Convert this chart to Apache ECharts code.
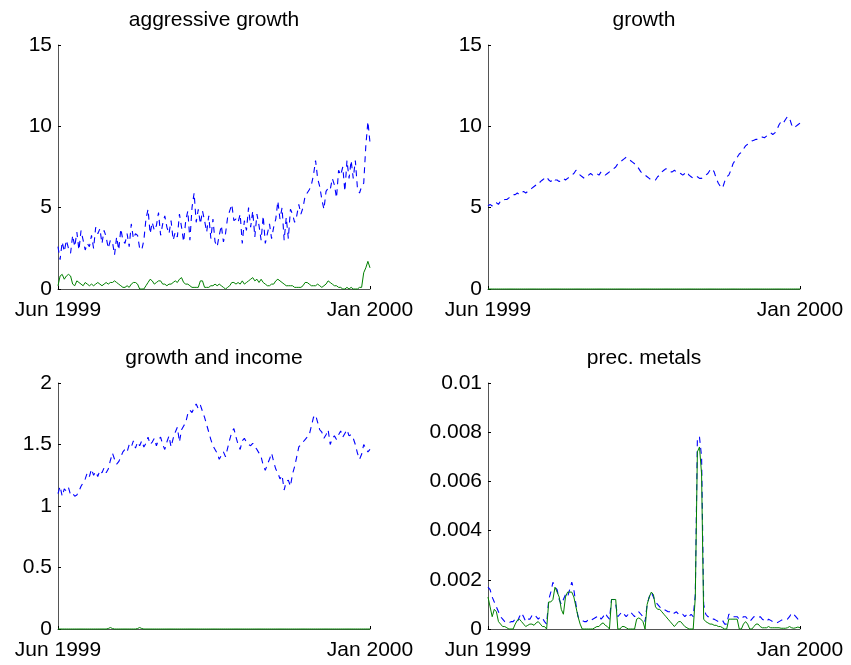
<!DOCTYPE html>
<html>
<head>
<meta charset="utf-8">
<script src="https://cdn.jsdelivr.net/npm/echarts@6/dist/echarts.min.js"></script>
<style>
  html, body { margin: 0; padding: 0; background: #ffffff; }
  #chart { width: 851px; height: 665px; }
</style>
</head>
<body>
<div id="chart"></div>
<script>
// ---------------- data ----------------
var panelTitles = ['aggressive growth', 'growth', 'growth and income', 'prec. metals'];
var xTickLabels = ['Jun 1999', 'Jan 2000'];
var yTicks = {
  ag: [0, 5, 10, 15],
  g: [0, 5, 10, 15],
  gi: [0, 0.5, 1, 1.5, 2],
  pm: [0, 0.002, 0.004, 0.006, 0.008, 0.01]
};

var agBlue = [
  2.6,1.8,2.9,2.3,3.0,2.5,2.2,3.3,2.6,3.5,
  2.4,3.6,3.0,2.4,2.8,2.6,3.3,2.5,3.8,3.4,
  3.7,2.8,3.6,3.2,2.5,3.0,2.9,2.1,3.2,2.4,
  3.7,3.0,2.8,3.4,2.6,4.0,3.1,3.4,3.3,2.5,
  2.4,3.0,4.3,4.9,3.4,4.1,3.6,3.9,4.7,3.3,
  4.0,4.5,3.8,3.4,4.2,3.0,3.5,3.2,4.6,3.8,
  2.9,4.2,4.8,3.0,5.0,5.9,4.1,4.9,4.0,4.8,
  4.2,3.5,4.5,3.1,4.3,2.9,2.6,3.3,3.9,2.9,
  3.4,4.4,4.8,5.2,4.2,4.3,4.1,4.6,2.8,4.2,
  3.6,5.0,3.8,4.8,3.2,4.6,3.9,3.0,4.5,2.8,
  3.4,4.0,3.1,3.8,4.3,5.4,4.3,5.0,3.0,4.4,
  3.1,4.9,4.6,4.1,4.5,5.2,4.6,5.0,5.7,5.9,
  6.1,6.4,7.0,7.9,6.8,6.3,5.5,4.9,6.0,6.2,
  6.1,6.8,6.4,5.6,7.3,7.0,7.5,6.0,7.9,6.8,
  7.9,6.8,7.9,6.2,5.9,6.3,6.5,8.8,10.3,9.0
];
var agGreen = [
  0.2,0.8,0.9,0.6,0.8,0.9,0.8,0.3,0.2,0.5,
  0.4,0.3,0.2,0.4,0.3,0.2,0.3,0.2,0.3,0.4,
  0.3,0.2,0.3,0.4,0.3,0.4,0.4,0.5,0.4,0.3,
  0.2,0.1,0.1,0.2,0.1,0.3,0.4,0.4,0.3,0.0,
  0.0,0.0,0.2,0.4,0.6,0.5,0.3,0.4,0.5,0.5,
  0.3,0.3,0.2,0.3,0.3,0.4,0.5,0.4,0.6,0.7,
  0.4,0.3,0.3,0.2,0.1,0.1,0.1,0.1,0.5,0.5,
  0.1,0.1,0.1,0.2,0.2,0.3,0.2,0.3,0.2,0.1,
  0.0,0.1,0.2,0.4,0.4,0.3,0.4,0.3,0.5,0.3,
  0.4,0.5,0.6,0.7,0.5,0.6,0.4,0.6,0.4,0.3,
  0.2,0.2,0.3,0.3,0.5,0.6,0.5,0.4,0.3,0.2,
  0.2,0.2,0.2,0.1,0.1,0.1,0.1,0.2,0.4,0.4,
  0.3,0.2,0.2,0.2,0.3,0.2,0.1,0.2,0.3,0.5,
  0.4,0.3,0.2,0.2,0.1,0.1,0.0,0.0,0.1,0.0,
  0.1,0.0,0.0,0.0,0.1,0.1,1.0,1.3,1.7,1.3
];
var gBlue = [
  5.1,5.2,5.1,5.3,5.3,5.2,5.4,5.4,5.5,5.5,
  5.6,5.7,5.8,5.8,5.9,5.8,5.9,6.0,5.9,6.0,
  6.1,6.2,6.3,6.4,6.4,6.6,6.7,6.8,6.9,6.7,
  6.6,6.8,6.7,6.7,6.6,6.7,6.8,6.7,6.8,6.9,
  7.0,7.1,7.3,7.2,7.0,6.9,6.8,6.9,7.0,7.1,
  7.0,7.1,7.1,7.0,7.2,7.1,7.0,7.1,7.2,7.3,
  7.4,7.5,7.7,7.8,7.9,8.0,8.1,8.0,7.9,7.8,
  7.7,7.6,7.4,7.2,7.1,7.0,6.9,6.8,6.7,6.7,
  6.7,6.9,7.0,7.2,7.3,7.4,7.3,7.2,7.2,7.3,
  7.2,7.2,7.1,7.0,7.1,7.2,7.0,6.9,6.8,6.8,
  6.9,6.8,6.8,6.9,7.0,7.1,7.3,7.4,7.2,6.8,
  6.5,6.3,6.2,6.6,6.9,7.0,7.3,7.7,7.9,8.1,
  8.3,8.4,8.6,8.8,8.9,9.0,9.1,9.15,9.2,9.2,
  9.3,9.35,9.3,9.4,9.5,9.6,9.5,9.6,9.8,10.1,
  10.3,10.2,10.4,10.6,10.5,10.1,9.9,10.0,10.1,10.2
];
var gGreen = [
  0,0,0,0,0,0,0,0,0,0, 0,0,0,0,0,0,0,0,0,0,
  0,0,0,0,0,0,0,0,0,0, 0,0,0,0,0,0,0,0,0,0,
  0,0,0,0,0,0,0,0,0,0, 0,0,0,0,0,0,0,0,0,0,
  0,0,0,0,0,0,0,0,0,0, 0,0,0,0,0,0,0,0,0,0,
  0,0,0,0,0,0,0,0,0,0, 0,0,0,0,0,0,0,0,0,0,
  0,0,0,0,0,0,0,0,0,0, 0,0,0,0,0,0,0,0,0,0,
  0,0,0,0,0,0,0,0,0,0, 0,0,0,0,0,0,0,0,0,0,
  0,0,0,0,0,0,0,0,0,0
];
var giBlue = [
  1.10,1.16,1.08,1.14,1.12,1.15,1.09,1.10,1.08,1.09,
  1.12,1.16,1.19,1.22,1.27,1.24,1.30,1.25,1.28,1.24,
  1.29,1.27,1.31,1.27,1.30,1.37,1.43,1.38,1.34,1.36,
  1.40,1.44,1.46,1.44,1.50,1.48,1.53,1.47,1.52,1.49,
  1.53,1.48,1.51,1.56,1.50,1.52,1.55,1.49,1.54,1.56,
  1.50,1.46,1.52,1.57,1.48,1.55,1.60,1.64,1.52,1.62,
  1.65,1.68,1.75,1.78,1.76,1.80,1.83,1.79,1.82,1.77,
  1.72,1.66,1.60,1.54,1.49,1.46,1.43,1.38,1.41,1.44,
  1.40,1.47,1.54,1.60,1.63,1.56,1.50,1.46,1.53,1.55,
  1.52,1.50,1.49,1.51,1.48,1.46,1.43,1.40,1.33,1.29,
  1.34,1.38,1.43,1.36,1.30,1.27,1.22,1.25,1.13,1.20,
  1.21,1.16,1.26,1.32,1.40,1.48,1.50,1.52,1.54,1.56,
  1.58,1.65,1.72,1.74,1.68,1.62,1.60,1.55,1.58,1.62,
  1.50,1.55,1.57,1.54,1.58,1.61,1.56,1.59,1.62,1.57,
  1.58,1.55,1.50,1.43,1.38,1.42,1.50,1.47,1.44,1.46
];
var giGreen = [
  0,0,0,0,0,0,0,0,0,0, 0,0,0,0,0,0,0,0,0,0,
  0,0,0,0,0.004,0.012,0.004,0,0,0, 0,0,0,0,0,0,0,0,0.004,0.012,
  0.004,0,0,0,0,0,0,0,0,0, 0,0,0,0,0,0,0,0,0,0,
  0,0,0,0,0,0,0,0,0,0, 0,0,0,0,0,0,0,0,0,0,
  0,0,0,0,0,0,0,0,0,0, 0,0,0,0,0,0,0,0,0,0,
  0,0,0,0,0,0,0,0,0,0, 0,0,0,0,0,0,0,0,0,0,
  0,0,0,0,0,0,0,0,0,0, 0,0,0,0,0,0,0,0,0,0,
  0,0,0,0,0,0,0,0,0,0
];
var pmBlue = [
  0.0017,0.0016,0.0013,0.0011,0.0009,0.0007,0.0005,0.0004,0.0003,0.00025,
  0.00025,0.0003,0.0003,0.0004,0.0003,0.0005,0.00065,0.0005,0.0003,0.0004,
  0.0004,0.00055,0.0006,0.0005,0.0004,0.0005,0.00045,0.0003,0.0002,0.0012,
  0.0015,0.0019,0.0017,0.0016,0.0012,0.0010,0.0012,0.0014,0.0013,0.0016,
  0.0019,0.0016,0.0010,0.0005,0.0004,0.00035,0.0003,0.0003,0.0004,0.00035,
  0.0004,0.00045,0.0005,0.00055,0.0004,0.0005,0.00065,0.0005,0.0004,0.0012,
  0.0012,0.0010,0.0005,0.0006,0.0007,0.0006,0.0005,0.0006,0.0007,0.0006,
  0.0005,0.0006,0.0007,0.0006,0.0005,0.0003,0.0010,0.0013,0.0015,0.0013,
  0.0011,0.0010,0.0009,0.0008,0.0008,0.00075,0.0007,0.0007,0.0006,0.00065,
  0.0007,0.0006,0.00055,0.0006,0.0005,0.0006,0.0005,0.0006,0.0005,0.0014,
  0.0078,0.0078,0.0070,0.0010,0.0006,0.0005,0.0005,0.0004,0.0004,0.00035,
  0.0003,0.0003,0.00035,0.0002,0.0002,0.0006,0.0006,0.0005,0.0005,0.0005,
  0.0004,0.0004,0.0005,0.0005,0.0004,0.0003,0.0004,0.0005,0.0005,0.00045,
  0.0005,0.0004,0.00035,0.0003,0.0004,0.00035,0.0003,0.0003,0.00025,0.0003,
  0.00035,0.0004,0.0004,0.0004,0.0005,0.00065,0.0006,0.0005,0.0004,0.0004
];
var pmGreen = [
  0.0013,0.0009,0.0005,0.0008,0.0007,0.0003,0.0002,0.0001,0.0001,0.00005,
  0,0,0,0.0002,0.00035,0.0004,0.0003,0.0002,0.0001,0.00015,
  0.0002,0.0002,0.00015,0.00025,0.0003,0.0002,0.0001,0.0001,0,0.0011,
  0.0011,0.0012,0.0017,0.0015,0.0013,0.0008,0.0006,0.0013,0.0015,0.0015,
  0.0015,0.0013,0.0009,0.0005,0.0002,0,0,0,0,0,
  0,0.00005,0.0001,0.0001,0.0002,0.00025,0.00015,0.0001,0,0.0012,
  0.0012,0.0012,0,0,0.0001,0.0001,0.00005,0,0,0,
  0,0.0004,0.00045,0.0004,0.0003,0,0.0010,0.0013,0.0015,0.0014,
  0.0009,0.0008,0.0008,0.0007,0.0006,0.0005,0.0004,0.0003,0.0002,0.0001,
  0.0002,0.0003,0.0003,0.0002,0.0001,0.00005,0,0,0,0.0013,
  0.0072,0.0074,0.0063,0.0004,0.0003,0.00025,0.0002,0.0002,0.00015,0.00015,
  0.0001,0.0001,0.00005,0,0,0.0004,0.0004,0.0004,0.0004,0.0004,
  0,0,0.0002,0.0003,0.0002,0,0,0.0001,0.0002,0.0002,
  0.0001,0.00005,0.00005,0.00005,0.0001,0.00005,0.00005,0.00005,0.00005,0.00005,
  0.00003,0.00003,0.00003,0.00005,0.0001,0.00005,0.00003,0.00005,0.00008,0.00005
];

// ---------------- chart ----------------
var FONT = 'Liberation Sans, Arial, Helvetica, sans-serif';
var AXIS_COLOR = '#555555';
var FS = 21;

var grids = [
  { left: 58, top: 45, width: 312, height: 244 },
  { left: 488, top: 45, width: 312, height: 244 },
  { left: 58, top: 383, width: 312, height: 246 },
  { left: 488, top: 383, width: 312, height: 246 }
];
var titleTops = [10, 10, 348, 348];
var yDefs = [yTicks.ag, yTicks.g, yTicks.gi, yTicks.pm];
var seriesPairs = [
  [agBlue, agGreen], [gBlue, gGreen], [giBlue, giGreen], [pmBlue, pmGreen]
];

function toXY(arr) { return arr.map(function (v, i) { return [i, v]; }); }

var option = {
  animation: false,
  backgroundColor: '#ffffff',
  textStyle: { fontFamily: FONT },
  title: [],
  grid: [],
  xAxis: [],
  yAxis: [],
  series: []
};

for (var p = 0; p < 4; p++) {
  var g = grids[p];
  var n = seriesPairs[p][0].length;
  var ticks = yDefs[p];
  option.grid.push({ left: g.left, top: g.top, width: g.width, height: g.height, containLabel: false });
  option.title.push({
    text: panelTitles[p],
    left: g.left + g.width / 2,
    top: titleTops[p],
    textAlign: 'center',
    padding: 0,
    textStyle: { fontFamily: FONT, fontSize: FS, fontWeight: 'normal', color: '#000000' }
  });
  option.xAxis.push({
    type: 'value',
    gridIndex: p,
    min: 0,
    max: n - 1,
    interval: n - 1,
    splitLine: { show: false },
    axisLine: { show: true, onZero: false, lineStyle: { color: AXIS_COLOR, width: 1 } },
    axisTick: { show: true, inside: true, length: 3, lineStyle: { color: '#000000' } },
    axisLabel: {
      show: true, margin: 11, fontFamily: FONT, fontSize: FS, color: '#000000',
      showMinLabel: true, showMaxLabel: true,
      formatter: function (v) { return v === 0 ? xTickLabels[0] : xTickLabels[1]; }
    }
  });
  option.yAxis.push({
    type: 'value',
    gridIndex: p,
    min: ticks[0],
    max: ticks[ticks.length - 1],
    interval: ticks[1] - ticks[0],
    splitLine: { show: false },
    axisLine: { show: true, onZero: false, lineStyle: { color: AXIS_COLOR, width: 1 } },
    axisTick: { show: true, inside: true, length: 3, lineStyle: { color: '#000000' } },
    axisLabel: {
      show: true, margin: 6, fontFamily: FONT, fontSize: FS, color: '#000000',
      formatter: function (v) { return String(parseFloat(v.toPrecision(6))); }
    }
  });
  option.series.push({
    type: 'line',
    xAxisIndex: p, yAxisIndex: p,
    data: toXY(seriesPairs[p][0]),
    showSymbol: false, symbol: 'none',
    clip: false,
    lineStyle: { color: '#0000ff', width: 1.1, type: [6, 5] },
    z: 3
  });
  option.series.push({
    type: 'line',
    xAxisIndex: p, yAxisIndex: p,
    data: toXY(seriesPairs[p][1]),
    showSymbol: false, symbol: 'none',
    clip: false,
    lineStyle: { color: '#008000', width: 1, type: 'solid' },
    z: 4
  });
}

var chart = echarts.init(document.getElementById('chart'), null, { renderer: 'canvas' });
chart.setOption(option);
</script>
</body>
</html>
